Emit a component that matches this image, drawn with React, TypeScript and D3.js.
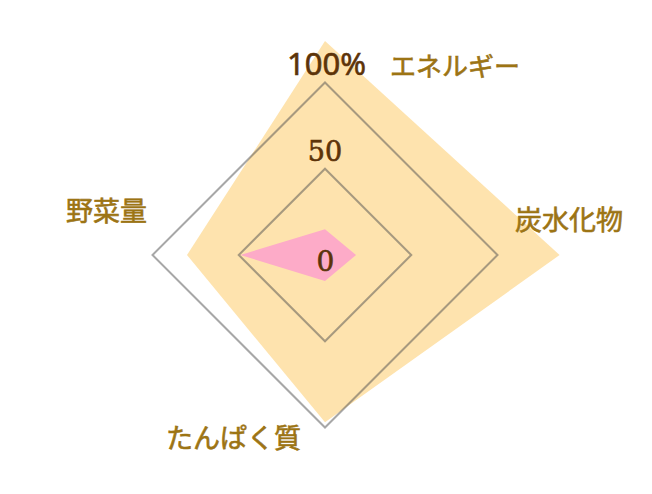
import { useEffect, useRef } from 'react';
import * as d3 from 'd3';

// axes clockwise from the top
const categories = ['エネルギー', '炭水化物', 'たんぱく質', '野菜量'];
const targetValues = [124, 136, 97, 80];
const actualValues = [15, 18, 15, 49];
const gridLevels = [50, 100];
const levelLabels = ['0', '50', '100%'];

export default function App() {
  const ref = useRef<SVGSVGElement>(null);

  useEffect(() => {
    if (!ref.current) return;
    const svg = d3.select(ref.current);
    svg.selectAll('*').remove();

    const cx = 325, cy = 255;
    const r = d3.scaleLinear().domain([0, 100]).range([0, 172.5]);
    const angle = (i: number) => (i / categories.length) * Math.PI * 2;

    const radial = d3.lineRadial<number>()
      .angle((_, i) => angle(i))
      .radius(d => r(d))
      .curve(d3.curveLinearClosed);

    const g = svg.append('g').attr('transform', `translate(${cx},${cy})`);

    g.append('path').attr('d', radial(targetValues)).attr('fill', '#fee3ae');
    g.append('path').attr('d', radial(actualValues)).attr('fill', '#fdabc8');

    gridLevels.forEach(lv => {
      g.append('path')
        .attr('d', radial(categories.map(() => lv)))
        .attr('fill', 'none')
        .attr('stroke', '#505050')
        .attr('stroke-opacity', 0.5)
        .attr('stroke-width', 2);
    });

    const numText = (x: number, y: number, family: string, size: number, t: string) =>
      g.append('text').attr('x', x).attr('y', y).attr('text-anchor', 'middle')
        .attr('font-family', family).attr('font-size', size)
        .attr('fill', '#5c3309').attr('stroke', '#5c3309').attr('stroke-width', 0.6)
        .text(t);

    // level labels
    numText(0.5, 16, '"DejaVu Serif", serif', 28, levelLabels[0]);
    numText(0, -r(50) - 8, '"DejaVu Serif", serif', 27, levelLabels[1]);
    numText(1.5, -r(100) - 8, '"Noto Sans", sans-serif', 31, levelLabels[2]);

    // category labels
    const catPos = [
      { x: 390, y: 76 },
      { x: 515, y: 230 },
      { x: 166, y: 448 },
      { x: 66, y: 221 },
    ];
    categories.forEach((c, i) => {
      svg.append('text')
        .attr('x', catPos[i].x).attr('y', catPos[i].y)
        .attr('font-family', '"Noto Sans CJK JP", sans-serif')
        .attr('font-size', i === 0 ? 26 : 27)
        .attr('fill', '#9c7414')
        .attr('stroke', '#9c7414').attr('stroke-width', 0.6)
        .text(c);
    });
  }, []);

  return (
    <svg ref={ref} width={652} height={494}
      style={{ position: 'absolute', left: 0, top: 0, background: '#fff' }} />
  );
}
